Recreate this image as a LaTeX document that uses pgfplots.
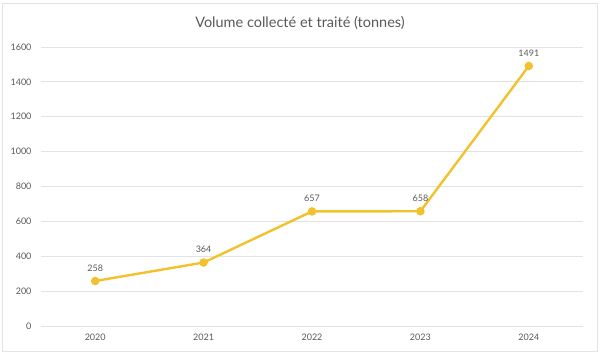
\documentclass[border=0pt]{standalone}
\usepackage{fontspec}
\setmainfont{Lato}
\usepackage{pgfplots}
\pgfplotsset{compat=1.18}
\definecolor{gold}{HTML}{F2C12E}
\definecolor{gridc}{HTML}{E3E3E3}
\definecolor{txt}{HTML}{595959}
\begin{document}
\begin{tikzpicture}[x=1pt,y=1pt]
\useasboundingbox (0,0) rectangle (600,355);
\draw[gridc, line width=0.8pt] (2,4) rectangle (597,352);
\begin{axis}[
  at={(41pt,29pt)}, anchor=south west,
  scale only axis, width=542pt, height=279pt,
  xmin=-0.5, xmax=4.5, ymin=0, ymax=1600,
  xtick={0,1,2,3,4}, xticklabels={2020,2021,2022,2023,2024},
  ytick={0,200,...,1600},
  ymajorgrids, grid style={gridc, line width=0.8pt},
  axis line style={draw=none}, major tick length=0pt,
  tick label style={font=\fontsize{9}{10}\selectfont, text=txt},
  /pgf/number format/assume math mode=true,
  /pgf/number format/1000 sep={},
  yticklabel style={xshift=-6pt},
  xticklabel style={yshift=-4pt},
  clip=false,
  nodes near coords,
  every node near coord/.append style={font=\fontsize{9}{10}\selectfont, text=txt, yshift=5pt},
  title={\textcolor{txt}{\fontsize{14.5}{16}\selectfont Volume collecté et traité (tonnes)}},
  title style={yshift=8pt, xshift=-12pt},
]
\addplot[gold, line width=2.4pt, mark=*, mark size=3pt, mark options={fill=gold, draw=gold}] coordinates {(0,258) (1,364) (2,657) (3,658) (4,1491)};
\end{axis}
\end{tikzpicture}
\end{document}
